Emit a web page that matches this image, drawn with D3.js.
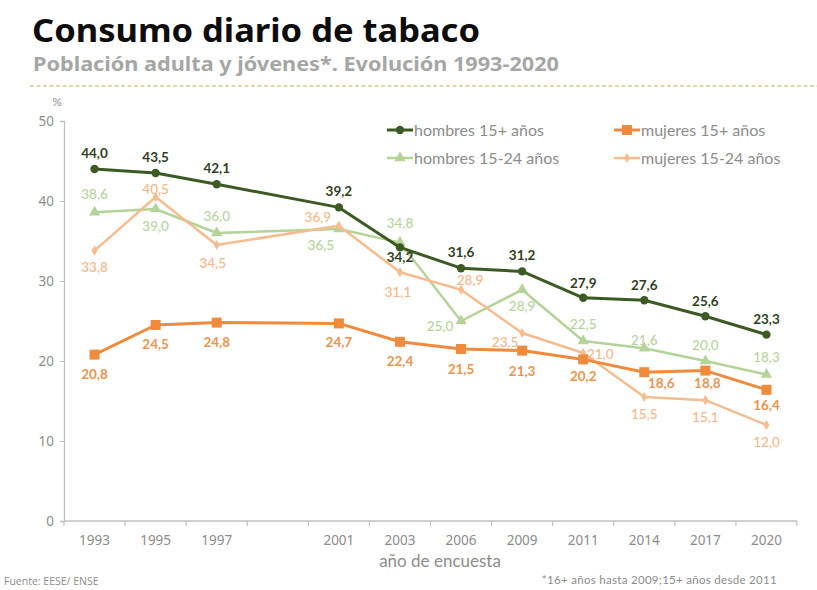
<!DOCTYPE html>
<html>
<head>
<meta charset="utf-8">
<script src="https://cdn.jsdelivr.net/npm/d3@7"></script>
<style>
  html, body { margin: 0; padding: 0; background: #fff; }
  svg { display: block; font-family: "Lato", "Noto Sans", sans-serif; }
</style>
</head>
<body>
<svg id="chart" width="817" height="590"></svg>
<script>
// Survey years; the blank slot keeps the gap between 1997 and 2001.
const years = ["1993", "1995", "1997", "", "2001", "2003", "2006", "2009", "2011", "2014", "2017", "2020"];

const hombres15 = [44.0, 43.5, 42.1, null, 39.2, 34.2, 31.6, 31.2, 27.9, 27.6, 25.6, 23.3];
const mujeres15 = [20.8, 24.5, 24.8, null, 24.7, 22.4, 21.5, 21.3, 20.2, 18.6, 18.8, 16.4];
const hombres1524 = [38.6, 39.0, 36.0, null, 36.5, 34.8, 25.0, 28.9, 22.5, 21.6, 20.0, 18.3];
const mujeres1524 = [33.8, 40.5, 34.5, null, 36.9, 31.1, 28.9, 23.5, 21.0, 15.5, 15.1, 12.0];

const yTicks = [0, 10, 20, 30, 40, 50];

// Label nudges (dx, dy in px, relative to each point) so the value labels do not collide.
const nudgeH15 = [[0,-16],[0,-16],[0,-16],null,[0,-16],[0,10],[0,-16],[0,-16],[0,-15],[0,-15],[0,-15],[0,-16]];
const nudgeM15 = [[0,19],[0,19],[0,19],null,[0,19],[0,19],[0,20],[0,20],[0,17],[17,11],[2,12],[0,15]];
const nudgeH1524 = [[0,-18],[0,17],[0,-17],null,[-18,16],[0,-20],[-21,5],[0,16],[0,-17],[0,-8],[0,-16],[0,-18]];
const nudgeM1524 = [[0,16],[0,-8],[-4,18],null,[-21,-9],[-2,20],[9,-10],[-17,9],[17,1],[0,17],[0,17],[0,17]];

const series = [
  { name: "hombres 15-24 años", values: hombres1524, nudge: nudgeH1524, color: "#b3d398", label: "#b7d39c", width: 2.5, marker: "triangle", weight: 500 },
  { name: "mujeres 15-24 años", values: mujeres1524, nudge: nudgeM1524, color: "#f6bc8e", label: "#f3b889", width: 2.5, marker: "diamond", weight: 500 },
  { name: "mujeres 15+ años", values: mujeres15, nudge: nudgeM15, color: "#f08a3c", label: "#e8954e", width: 3, marker: "square", weight: 700 },
  { name: "hombres 15+ años", values: hombres15, nudge: nudgeH15, color: "#3c5a22", label: "#2f3f22", width: 3, marker: "circle", weight: 700 }
];

const svg = d3.select("#chart");
const margin = { left: 64, right: 20, top: 121, bottom: 69 };
const W = 817, H = 590;

const x = d3.scaleBand().domain(d3.range(years.length)).range([margin.left, 797]);
const y = d3.scaleLinear().domain([0, 50]).range([521, 121]);
const cx = i => x(i) + x.bandwidth() / 2;

// Title block
svg.append("text").attr("x", 32).attr("y", 42)
  .attr("font-size", 33).attr("font-weight", 700).attr("fill", "#0d0d0d")
  .attr("font-family", "'Noto Sans', sans-serif")
  .attr("textLength", 448).attr("lengthAdjust", "spacingAndGlyphs")
  .text("Consumo diario de tabaco");
svg.append("text").attr("x", 33).attr("y", 71)
  .attr("font-size", 19).attr("font-weight", 700).attr("fill", "#a6a6a6")
  .attr("font-family", "'Noto Sans', sans-serif")
  .attr("textLength", 526).attr("lengthAdjust", "spacingAndGlyphs")
  .text("Población adulta y jóvenes*. Evolución 1993-2020");
svg.append("line").attr("x1", 30).attr("x2", W).attr("y1", 86).attr("y2", 86)
  .attr("stroke", "#d2cc8e").attr("stroke-width", 1.3).attr("stroke-dasharray", "4 2.5");

// Y axis
const yAxis = d3.axisLeft(y).tickValues(yTicks).tickSize(4).tickPadding(6);
const gy = svg.append("g").attr("transform", `translate(${margin.left},0)`).call(yAxis);
gy.select(".domain").attr("stroke", "#bfbfbf").attr("stroke-width", 1.3);
gy.selectAll(".tick line").attr("stroke", "#bfbfbf");
gy.selectAll(".tick text").attr("fill", "#8c8c8c").attr("font-size", 13.5).attr("font-family", "'Noto Sans', sans-serif");
svg.append("text").attr("x", 57).attr("y", 106).attr("text-anchor", "middle")
  .attr("font-size", 12).attr("fill", "#8c8c8c").text("%");

// X axis: ticks sit on the band boundaries, labels centred in each band
const gx = svg.append("g").attr("transform", `translate(0,${y(0)})`);
gx.append("line").attr("x1", margin.left).attr("x2", 797).attr("stroke", "#bfbfbf").attr("stroke-width", 1.3);
const bounds = d3.range(years.length + 1).map(i => i < years.length ? x(i) : x(years.length - 1) + x.bandwidth());
gx.selectAll("line.tk").data(bounds).join("line").attr("class", "tk")
  .attr("x1", d => d).attr("x2", d => d).attr("y1", 0).attr("y2", 5)
  .attr("stroke", "#bfbfbf").attr("stroke-width", 1.2);
gx.selectAll("text.yr").data(years).join("text").attr("class", "yr")
  .attr("x", (d, i) => cx(i)).attr("y", 24).attr("text-anchor", "middle")
  .attr("font-size", 13.5).attr("fill", "#8c8c8c").attr("font-family", "'Noto Sans', sans-serif")
  .text(d => d);
svg.append("text").attr("x", 440).attr("y", 567).attr("text-anchor", "middle")
  .attr("font-size", 17).attr("fill", "#8c8c8c").text("año de encuesta");

// Lines
const line = d3.line().x(d => cx(d.i)).y(d => y(d.v));
function pts(s) { return s.values.map((v, i) => ({ v, i })).filter(d => d.v !== null); }

function drawMarker(g, type, color, px, py) {
  if (type === "circle") {
    g.append("circle").attr("cx", px).attr("cy", py).attr("r", 4.2).attr("fill", color);
  } else if (type === "square") {
    g.append("rect").attr("x", px - 5).attr("y", py - 5).attr("width", 10).attr("height", 10).attr("fill", color);
  } else if (type === "triangle") {
    g.append("path").attr("d", d3.symbol(d3.symbolTriangle, 55)()).attr("transform", `translate(${px},${py})`).attr("fill", color);
  } else {
    g.append("path").attr("d", d3.symbol(d3.symbolDiamond, 30)()).attr("transform", `translate(${px},${py})`).attr("fill", color);
  }
}

series.forEach(s => {
  const g = svg.append("g");
  const p = pts(s);
  g.append("path").datum(p).attr("d", line).attr("fill", "none")
    .attr("stroke", s.color).attr("stroke-width", s.width).attr("stroke-linejoin", "round");
  p.forEach(d => drawMarker(g, s.marker, s.color, cx(d.i), y(d.v)));
});

// Value labels
series.forEach(s => {
  pts(s).forEach(d => {
    const n = s.nudge[d.i];
    svg.append("text")
      .attr("x", cx(d.i) + n[0]).attr("y", y(d.v) + n[1] + 5)
      .attr("text-anchor", "middle").attr("font-size", 13.5)
      .attr("font-weight", s.weight).attr("fill", s.label)
      .text(d3.format(".1f")(d.v).replace(".", ","));
  });
});

// Legend
const legend = [
  { s: series[3], x: 387, y: 130 },
  { s: series[2], x: 614, y: 130 },
  { s: series[0], x: 387, y: 158 },
  { s: series[1], x: 614, y: 158 }
];
legend.forEach(l => {
  const g = svg.append("g");
  g.append("line").attr("x1", l.x).attr("x2", l.x + 26).attr("y1", l.y).attr("y2", l.y)
    .attr("stroke", l.s.color).attr("stroke-width", l.s.width);
  drawMarker(g, l.s.marker, l.s.color, l.x + 13, l.y);
  g.append("text").attr("x", l.x + 27).attr("y", l.y + 5.5)
    .attr("font-size", 16).attr("fill", "#8c8c8c").text(l.s.name);
});

// Source and footnote
svg.append("text").attr("x", 4).attr("y", 585)
  .attr("font-size", 10.5).attr("fill", "#8c8c8c").attr("font-family", "'Open Sans', sans-serif")
  .text("Fuente: EESE/ ENSE");
svg.append("text").attr("x", 777).attr("y", 584).attr("text-anchor", "end")
  .attr("font-size", 11.5).attr("fill", "#8c8c8c").attr("letter-spacing", 0.3)
  .text("*16+ años hasta 2009;15+ años desde 2011");
</script>
</body>
</html>
